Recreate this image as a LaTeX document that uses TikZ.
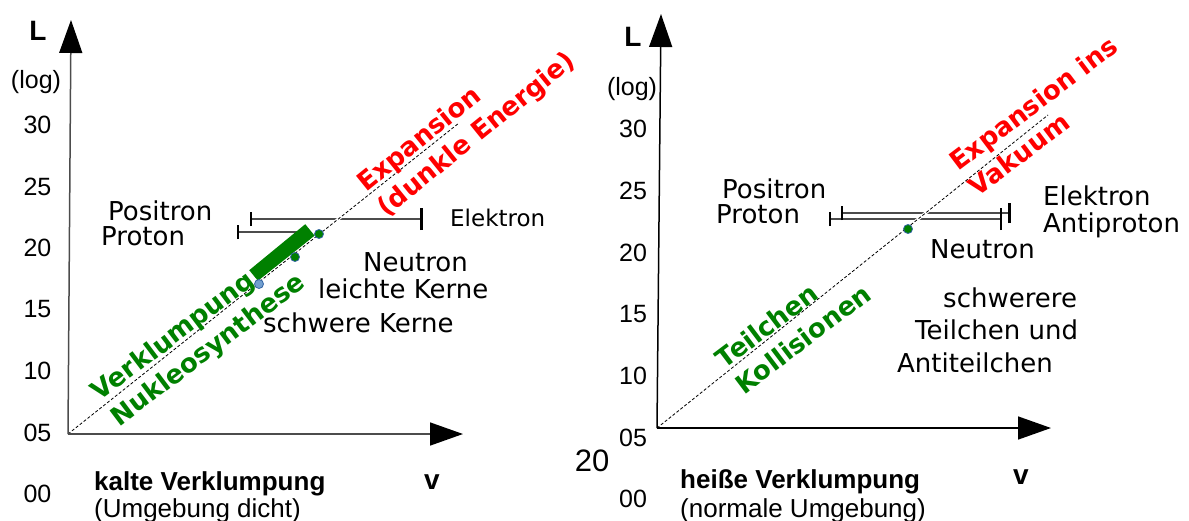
\documentclass[tikz,border=0pt]{standalone}
\usepackage{fontspec}
\setmainfont{DejaVu Sans}
\newfontfamily\libsans{Liberation Sans}
\usetikzlibrary{arrows.meta}
\definecolor{kgreen}{HTML}{008000}
\definecolor{dotblue}{HTML}{3465A4}
\definecolor{dotlight}{HTML}{729FCF}

\begin{document}
\begin{tikzpicture}[x=1pt, y=-1pt,
                    every node/.style={inner sep=0pt, font=\fontsize{26}{32}\selectfont},
                    lbl/.style={anchor=base west},
                    tick/.style={font=\libsans\fontsize{25}{30}\selectfont},
                    axlbl/.style={font=\libsans\bfseries\fontsize{28}{30}\selectfont},
                    caption/.style={anchor=base west, font=\libsans\fontsize{26}{30}\selectfont},
                    axis/.style={line width=1.5pt, -{Triangle[length=33pt, width=23pt, color=black]}},
                    diag/.style={densely dashed, line width=0.8pt, preaction={draw=white, solid, line width=3pt}},
                    bar/.style={draw=black!70, line width=1.5pt},
                    endtick/.style={draw=black, line width=1.3pt},
                    bigtick/.style={draw=black, line width=3pt},
                    dot/.style={circle, fill=kgreen, draw=dotblue, line width=0.8pt, minimum size=9pt},
                    slant/.style={font=\bfseries\fontsize{26}{32}\selectfont, align=left}]

    \useasboundingbox (0,0) rectangle (1189,520);

    % ---- left diagram: kalte Verklumpung ----
    \coordinate (O1) at (68,434);
    \coordinate (Y1) at (71,20);
    \coordinate (X1) at (463,434);
    \coordinate (D1) at (459,123);

    % bars
    \coordinate (eL) at (251,219); \coordinate (eR) at (421,219);
    \coordinate (pL) at (238,232); \coordinate (pR) at (306,232);
    \draw[bar] (eL) -- (eR);
    \draw[bar] (pL) -- (pR);
    \draw[endtick] ([yshift=-7pt]eL) -- ([yshift=7pt]eL);
    \draw[bigtick] ([yshift=-11pt]eR) -- ([yshift=11pt]eR);
    \draw[endtick, line width=2pt] ([yshift=-7pt]pL) -- ([yshift=7pt]pL);

    % green clump
    \coordinate (g1) at (254,276); \coordinate (g2) at (310,230);
    \draw[kgreen, line width=15pt] (g1) -- (g2);

    \draw[diag] (O1) -- (D1); % diagonal
    \draw[axis, black!70] (O1) -- (Y1);
    \draw[axis, black!70] (O1) -- (X1);

    \node[dot] (n1) at (319,234) {};
    \node[dot] (n2) at (295,257) {};
    \node[dot, fill=dotlight] (n3) at (259,284) {};

    % labels
    \node[lbl] (pos1) at (108,220) {Positron};
    \node[lbl] (pro1) at (101,245) {Proton};
    \node[lbl, font=\fontsize{23}{28}\selectfont] (ele1) at (450,226) {Elektron};
    \node[lbl] (neu1) at (363,271) {Neutron};
    \node[lbl] (lei1) at (318,298) {leichte Kerne};
    \node[lbl] (sch1) at (263,332) {schwere Kerne};

    \node[slant, red, rotate=39] (exp1) at (467,123) {Expansion\\(dunkle Energie)};
    \node[slant, kgreen, rotate=37] (nuk1) at (199,338) {Verklumpung\\Nukleosynthese};

    % scale
    \foreach \v [count=\i from 0] in {30,25,20,15,10,05,00}
        \node[tick] (ta\i) at (37.5,125+61.5*\i) {\v};
    \node[tick] (log1) at (36,82) {(log)};
    \node[axlbl] (L1) at (38,31) {L};
    \node[axlbl] (v1) at (432,482) {v};
    \node[caption, font=\libsans\bfseries\fontsize{26}{30}\selectfont] (cap1) at (94,490) {kalte Verklumpung};
    \node[caption] (sub1) at (94,517) {(Umgebung dicht)};

    % ---- right diagram: heisse Verklumpung ----
    \coordinate (O2) at (657,428);
    \coordinate (Y2) at (661,14);
    \coordinate (X2) at (1051,428);
    \coordinate (D2) at (1048,115);

    % bars
    \coordinate (uL) at (842,213); \coordinate (uR) at (1009,213);
    \coordinate (wL) at (830,219); \coordinate (wR) at (1001,219);
    \draw[bar] (uL) -- (uR);
    \draw[bar] (wL) -- (wR);
    \draw[endtick] ([yshift=-7pt]uL) -- ([yshift=7pt]uL);
    \draw[bigtick] ([yshift=-10pt]uR) -- ([yshift=10pt]uR);
    \draw[endtick] ([yshift=-7pt]wL) -- ([yshift=7pt]wL);
    \draw[endtick, line width=2pt] ([yshift=-11pt]wR) -- ([yshift=11pt]wR);

    \draw[diag] (O2) -- (D2); % diagonal
    \draw[axis] (O2) -- (Y2);
    \draw[axis] (O2) -- (X2);

    \node[dot] (n4) at (908,229) {};

    % labels
    \node[lbl] (pos2) at (722,198) {Positron};
    \node[lbl] (pro2) at (716,223) {Proton};
    \node[lbl] (ele2) at (1043,205) {Elektron};
    \node[lbl] (ant2) at (1043,232) {Antiproton};
    \node[lbl] (neu2) at (930,258) {Neutron};
    \node[lbl] (sw2) at (943,307) {schwerere};
    \node[lbl] (tu2) at (915,339) {Teilchen und};
    \node[lbl] (at2) at (897,372) {Antiteilchen};

    \node[slant, red, rotate=37] (exp2) at (1043,116) {Expansion ins\\Vakuum};
    \node[slant, kgreen, rotate=37] (kol2) at (793,326) {Teilchen\\Kollisionen};

    % scale
    \foreach \v [count=\i from 0] in {30,25,20,15,10,05,00}
        \node[tick] (tb\i) at (633,129+61.7*\i) {\v};
    \node[tick] (log2) at (632,89) {(log)};
    \node[axlbl] (L2) at (633,37) {L};
    \node[axlbl] (v2) at (1021,477) {v};
    \node[tick, font=\libsans\fontsize{31}{36}\selectfont] (yr) at (592,461) {20};
    \node[caption, font=\libsans\bfseries\fontsize{26}{30}\selectfont] (cap2) at (680,488) {heiße Verklumpung};
    \node[caption] (sub2) at (680,517) {(normale Umgebung)};
\end{tikzpicture}
\end{document}
